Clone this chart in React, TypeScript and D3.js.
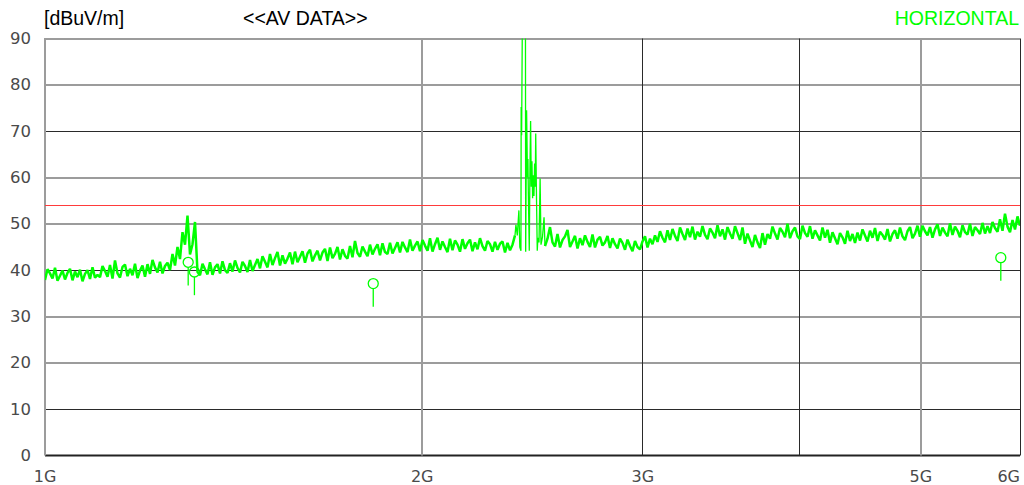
import React from "react";
import * as d3 from "d3";

// ---- Sweep settings (log sweep, 391 points) ----
const SWEEP_START_MHZ = 1000;
const SWEEP_STOP_MHZ = 6000;

// Average detector readings along the sweep, dBuV/m
const sweepLevels: number[] = [
  // 1.00 – 1.13 GHz
  37.9, 40.2, 39.3, 38.2, 40.5, 37.7, 38.8, 39.9, 38.0, 39.4, 40.3, 37.8, 39.7, 38.5, 40.1, 37.6, 39.2, 40.0, 38.1, 40.6, 38.4, 39.0,
  // 1.13 – 1.25 GHz
  38.5, 40.9, 39.8, 38.6, 41.1, 38.2, 42.1, 39.3, 38.4, 40.7, 41.2, 38.7, 40.3, 38.9, 41.4, 38.3, 39.9, 41.0, 38.6, 41.3,
  39.2, 42.2, 40.6, 39.5, 41.8, 39.3, 40.9, 41.6,
  // 1.27 – 1.32 GHz emission cluster
  40.0, 43.5, 41.0, 45.0, 42.4, 48.2, 45.5, 51.8, 43.4, 45.6, 50.4, 39.6,
  // 1.33 – 1.57 GHz
  38.9, 41.4, 40.2, 39.1, 41.7, 39.0, 40.6, 41.3, 39.3, 41.9, 40.0, 39.4, 41.5, 39.7, 42.1, 40.5, 39.5, 41.8, 40.9, 39.6, 42.2, 39.8, 41.1, 42.4,
  40.4, 43.0, 41.8, 40.6, 43.5, 41.1, 42.6, 43.9, 41.0, 43.2, 41.4, 42.5, 43.8, 41.3, 44.0, 41.7,
  // 1.57 – 2.00 GHz
  42.9, 44.1, 41.6, 43.6, 44.4, 41.9, 43.2, 44.2, 42.1, 43.8, 44.6, 42.0, 44.9, 42.6, 43.5, 45.0,
  42.3, 44.5, 43.1, 42.5, 45.2, 42.8, 46.3, 43.7, 42.9, 45.1, 44.0, 43.0, 45.5, 43.4, 44.6, 45.6,
  43.2, 45.8, 43.9, 43.5, 45.9, 43.6, 44.8, 46.0, 43.8, 46.1, 44.9, 43.9, 46.6, 44.2, 45.3, 46.2,
  // 2.00 – 2.37 GHz
  44.1, 46.5, 45.3, 44.2, 46.9, 44.0, 45.6, 47.0, 44.4, 46.2, 45.0, 43.9, 46.8, 44.3, 46.4, 45.5,
  44.0, 46.7, 44.6, 45.8, 46.6, 44.1, 46.0, 44.5, 46.9, 45.2, 44.2, 46.3, 45.6, 44.0, 46.1, 44.4,
  45.7, 46.2, 43.8, 45.9,
  // 2.37 – 2.50 GHz (ISM band, detailed in wlanBurst)
  44.3, 45.5, 47.5, 52.5, 44.5, 47.0, 46.0, 58.0, 56.0, 60.0, 55.0, 46.0, 52.0, 47.0,
  // 2.51 – 3.00 GHz
  45.2, 46.8, 49.3, 46.0, 45.1, 47.8, 44.9, 46.5, 47.3, 48.7, 45.0, 46.2, 47.4, 44.7, 46.9, 45.4,
  47.5, 46.1, 45.0, 47.7, 44.9, 46.6, 47.2, 45.3, 46.0, 47.4, 44.8, 46.9, 45.6, 44.7, 46.8, 45.9,
  44.4, 46.6, 45.2, 44.1, 46.3, 45.0, 44.5,
  // 3.00 – 3.45 GHz
  46.2, 47.3, 44.9, 46.8, 45.6, 47.5, 46.1, 48.4, 47.0, 46.0, 48.6, 46.5, 48.9, 47.4, 46.3, 49.2, 47.8, 46.5, 49.0, 47.1,
  49.4, 46.6, 48.3, 47.2,
  49.5, 47.6, 46.7, 49.0, 48.1, 46.9, 49.7, 47.3, 48.8, 46.6, 49.3, 47.9, 46.8, 49.5, 48.0, 46.5, 49.2,
  // 3.85 – 4.00 GHz
  45.7, 47.9, 46.4, 45.0, 47.6, 46.0, 44.8, 48.0, 45.5, 47.8,
  // 4.00 – 4.50 GHz
  46.8, 49.4, 47.9, 46.6, 49.1, 48.3, 47.1, 50.0, 46.9, 48.4, 49.2, 47.3, 46.7, 49.6, 48.0, 47.2, 49.5, 46.8, 48.6, 47.5,
  46.4, 49.2, 47.0, 48.7,
  45.9, 48.2, 46.9, 45.6, 48.0, 47.1, 45.7, 48.5, 46.3, 47.8, 45.9, 48.1,
  // 4.50 – 5.00 GHz
  46.4, 48.8, 47.5, 46.2, 48.5, 47.0, 49.1, 46.3, 48.3, 47.6, 46.6, 48.9, 46.2, 47.8, 48.6, 46.8, 49.2, 47.3, 46.5, 48.4,
  49.3, 46.9, 47.9, 49.6,
  // 5.00 – 5.65 GHz
  47.2, 49.6, 48.4, 47.5, 49.3, 47.0, 48.8, 49.9, 47.4, 49.2, 48.1, 47.3, 50.1, 47.6, 49.4, 48.5, 47.1, 49.7, 48.2, 47.7,
  50.0, 47.4, 49.3, 48.6, 47.8, 50.2, 47.9, 49.5,
  // 5.65 – 6.00 GHz
  48.0, 50.4, 49.1, 48.3, 51.0, 48.5, 52.2, 49.4, 48.2, 50.8, 48.8, 51.6, 49.6,
];

// Fine-resolution readings inside the 2.4 GHz burst, [MHz, dBuV/m]
const wlanBurst: [number, number][] = [
  [2376, 49.8], [2382, 47.5], [2389, 52.9], [2393, 45.0], [2398, 44.2],
  [2399, 75.2], [2401, 69.1], [2404, 92.0], [2418, 92.0], [2419, 44.0],
  [2423, 74.5], [2427, 60.0], [2429, 64.0], [2431, 56.0], [2435, 44.2],
  [2438, 62.0], [2441, 72.2], [2444, 58.0], [2447, 63.5], [2450, 55.5],
  [2453, 60.5], [2456, 56.0], [2459, 63.0], [2462, 58.0], [2464, 69.5],
  [2468, 54.0], [2471, 44.2], [2474, 47.0], [2479, 46.0], [2484, 59.8],
  [2488, 45.5], [2495, 47.2], [2502, 51.4], [2506, 45.8],
];

// Final measurement markers
const markerFreqMHz = [1301, 1316, 1828, 5792];
const markerLevels = [41.7, 39.6, 37.1, 42.7];

// Limit line, dBuV/m
const avLimit = 54;

// Axis ticks
const yTicks = [0, 10, 20, 30, 40, 50, 60, 70, 80, 90];
const xGridMHz = [1000, 2000, 3000, 4000, 5000, 6000];
const xTickLabels: [number, string][] = [
  [1000, "1G"], [2000, "2G"], [3000, "3G"], [5000, "5G"], [6000, "6G"],
];

// Grid lines drawn in the soft (wide grey) style
const softY = new Set([90, 80, 60, 50, 30, 20]);
const softX = new Set([1000, 2000, 5000]);

const W = 1024;
const H = 485;
const LEFT = 45;
const RIGHT = 1020;
const TOP = 38.5;
const BOTTOM = 455.5;

const TRACE = "#00ff00";

export default function App() {
  const x = d3.scaleLog().domain([SWEEP_START_MHZ, SWEEP_STOP_MHZ]).range([LEFT, RIGHT]);
  const y = d3.scaleLinear().domain([0, 90]).range([BOTTOM, TOP]);

  const n = sweepLevels.length;
  const sweepPoints: [number, number][] = sweepLevels.map((v, i) => [
    SWEEP_START_MHZ * Math.pow(SWEEP_STOP_MHZ / SWEEP_START_MHZ, i / (n - 1)),
    v,
  ]);
  // the burst readings replace the coarse sweep samples within their span
  const burstLo = wlanBurst[0][0];
  const burstHi = wlanBurst[wlanBurst.length - 1][0];
  const below = sweepPoints.filter(([f]) => f < burstLo);
  const above = sweepPoints.filter(([f]) => f > burstHi);
  const burstPath: [number, number][] = [
    below[below.length - 1],
    ...wlanBurst,
    above[0],
  ];

  const line = d3
    .line<[number, number]>()
    .x((d) => x(d[0]))
    .y((d) => y(d[1]));

  const labelFont = "'DejaVu Sans', sans-serif";
  const titleFont = "'Liberation Sans', Arial, sans-serif";
  const limitY = Math.round(y(avLimit)) + 0.5;

  return (
    <svg
      width={W}
      height={H}
      style={{ position: "absolute", left: 0, top: 0, background: "#fff" }}
    >
      <defs>
        <clipPath id="plot">
          <rect x={LEFT} y={TOP} width={RIGHT - LEFT} height={BOTTOM - TOP} />
        </clipPath>
      </defs>

      {/* horizontal grid */}
      {yTicks.map((v) => {
        const py = y(v);
        if (v === 0) {
          return (
            <line key={v} x1={LEFT} x2={RIGHT} y1={455.5} y2={455.5} stroke="#222" strokeWidth={2} />
          );
        }
        return softY.has(v) ? (
          <line key={v} x1={LEFT} x2={RIGHT} y1={Math.round(py)} y2={Math.round(py)} stroke="#9c9c9c" strokeWidth={2} />
        ) : (
          <line key={v} x1={LEFT} x2={RIGHT} y1={Math.floor(py) + 0.5} y2={Math.floor(py) + 0.5} stroke="#2a2a2a" strokeWidth={1} />
        );
      })}

      {/* vertical grid */}
      {xGridMHz.map((f) => {
        const px = x(f);
        return softX.has(f) ? (
          <line key={f} x1={Math.round(px)} x2={Math.round(px)} y1={TOP - 0.5} y2={BOTTOM} stroke="#9c9c9c" strokeWidth={2} />
        ) : (
          <line key={f} x1={Math.floor(px) + 0.5} x2={Math.floor(px) + 0.5} y1={TOP} y2={BOTTOM} stroke="#2a2a2a" strokeWidth={1} />
        );
      })}

      {/* limit line */}
      <line x1={LEFT} x2={RIGHT} y1={limitY} y2={limitY} stroke="#ff3b3b" strokeWidth={1} />

      {/* measured trace: dense noise floor, finer burst segment */}
      <g clipPath="url(#plot)" fill="none" stroke={TRACE} strokeLinejoin="bevel">
        <path d={line(below) ?? ""} strokeWidth={2.5} />
        <path d={line(above) ?? ""} strokeWidth={2.5} />
        <path d={line(burstPath) ?? ""} strokeWidth={1.3} />
      </g>

      {/* final markers */}
      {markerFreqMHz.map((f, i) => {
        const cx = x(f);
        const cy = y(markerLevels[i]);
        return (
          <g key={f}>
            <line x1={cx} x2={cx} y1={cy + 5} y2={y(markerLevels[i] - 5)} stroke={TRACE} strokeWidth={1.3} />
            <circle cx={cx} cy={cy} r={5} fill="none" stroke={TRACE} strokeWidth={1.3} />
          </g>
        );
      })}

      {/* y tick labels */}
      {yTicks.map((v) => (
        <text
          key={v}
          x={31}
          y={y(v)}
          textAnchor="end"
          dominantBaseline="central"
          fontFamily={labelFont}
          fontSize={16.5}
          fill="#4a4a4a"
        >
          {v}
        </text>
      ))}

      {/* x tick labels */}
      {xTickLabels.map(([f, label]) => (
        <text
          key={label}
          x={f === SWEEP_STOP_MHZ ? RIGHT : x(f)}
          y={476}
          textAnchor={f === SWEEP_STOP_MHZ ? "end" : "middle"}
          dominantBaseline="central"
          fontFamily={labelFont}
          fontSize={16}
          fill="#4a4a4a"
        >
          {label}
        </text>
      ))}

      {/* header */}
      <text x={44} y={25} fontFamily={titleFont} fontSize={19.5} fill="#000">
        [dBuV/m]
      </text>
      <text x={243} y={25} fontFamily={titleFont} fontSize={19.5} fill="#000">
        {"<<AV DATA>>"}
      </text>
      <text x={1019} y={25} textAnchor="end" fontFamily={titleFont} fontSize={19.5} fill={TRACE}>
        HORIZONTAL
      </text>
    </svg>
  );
}
